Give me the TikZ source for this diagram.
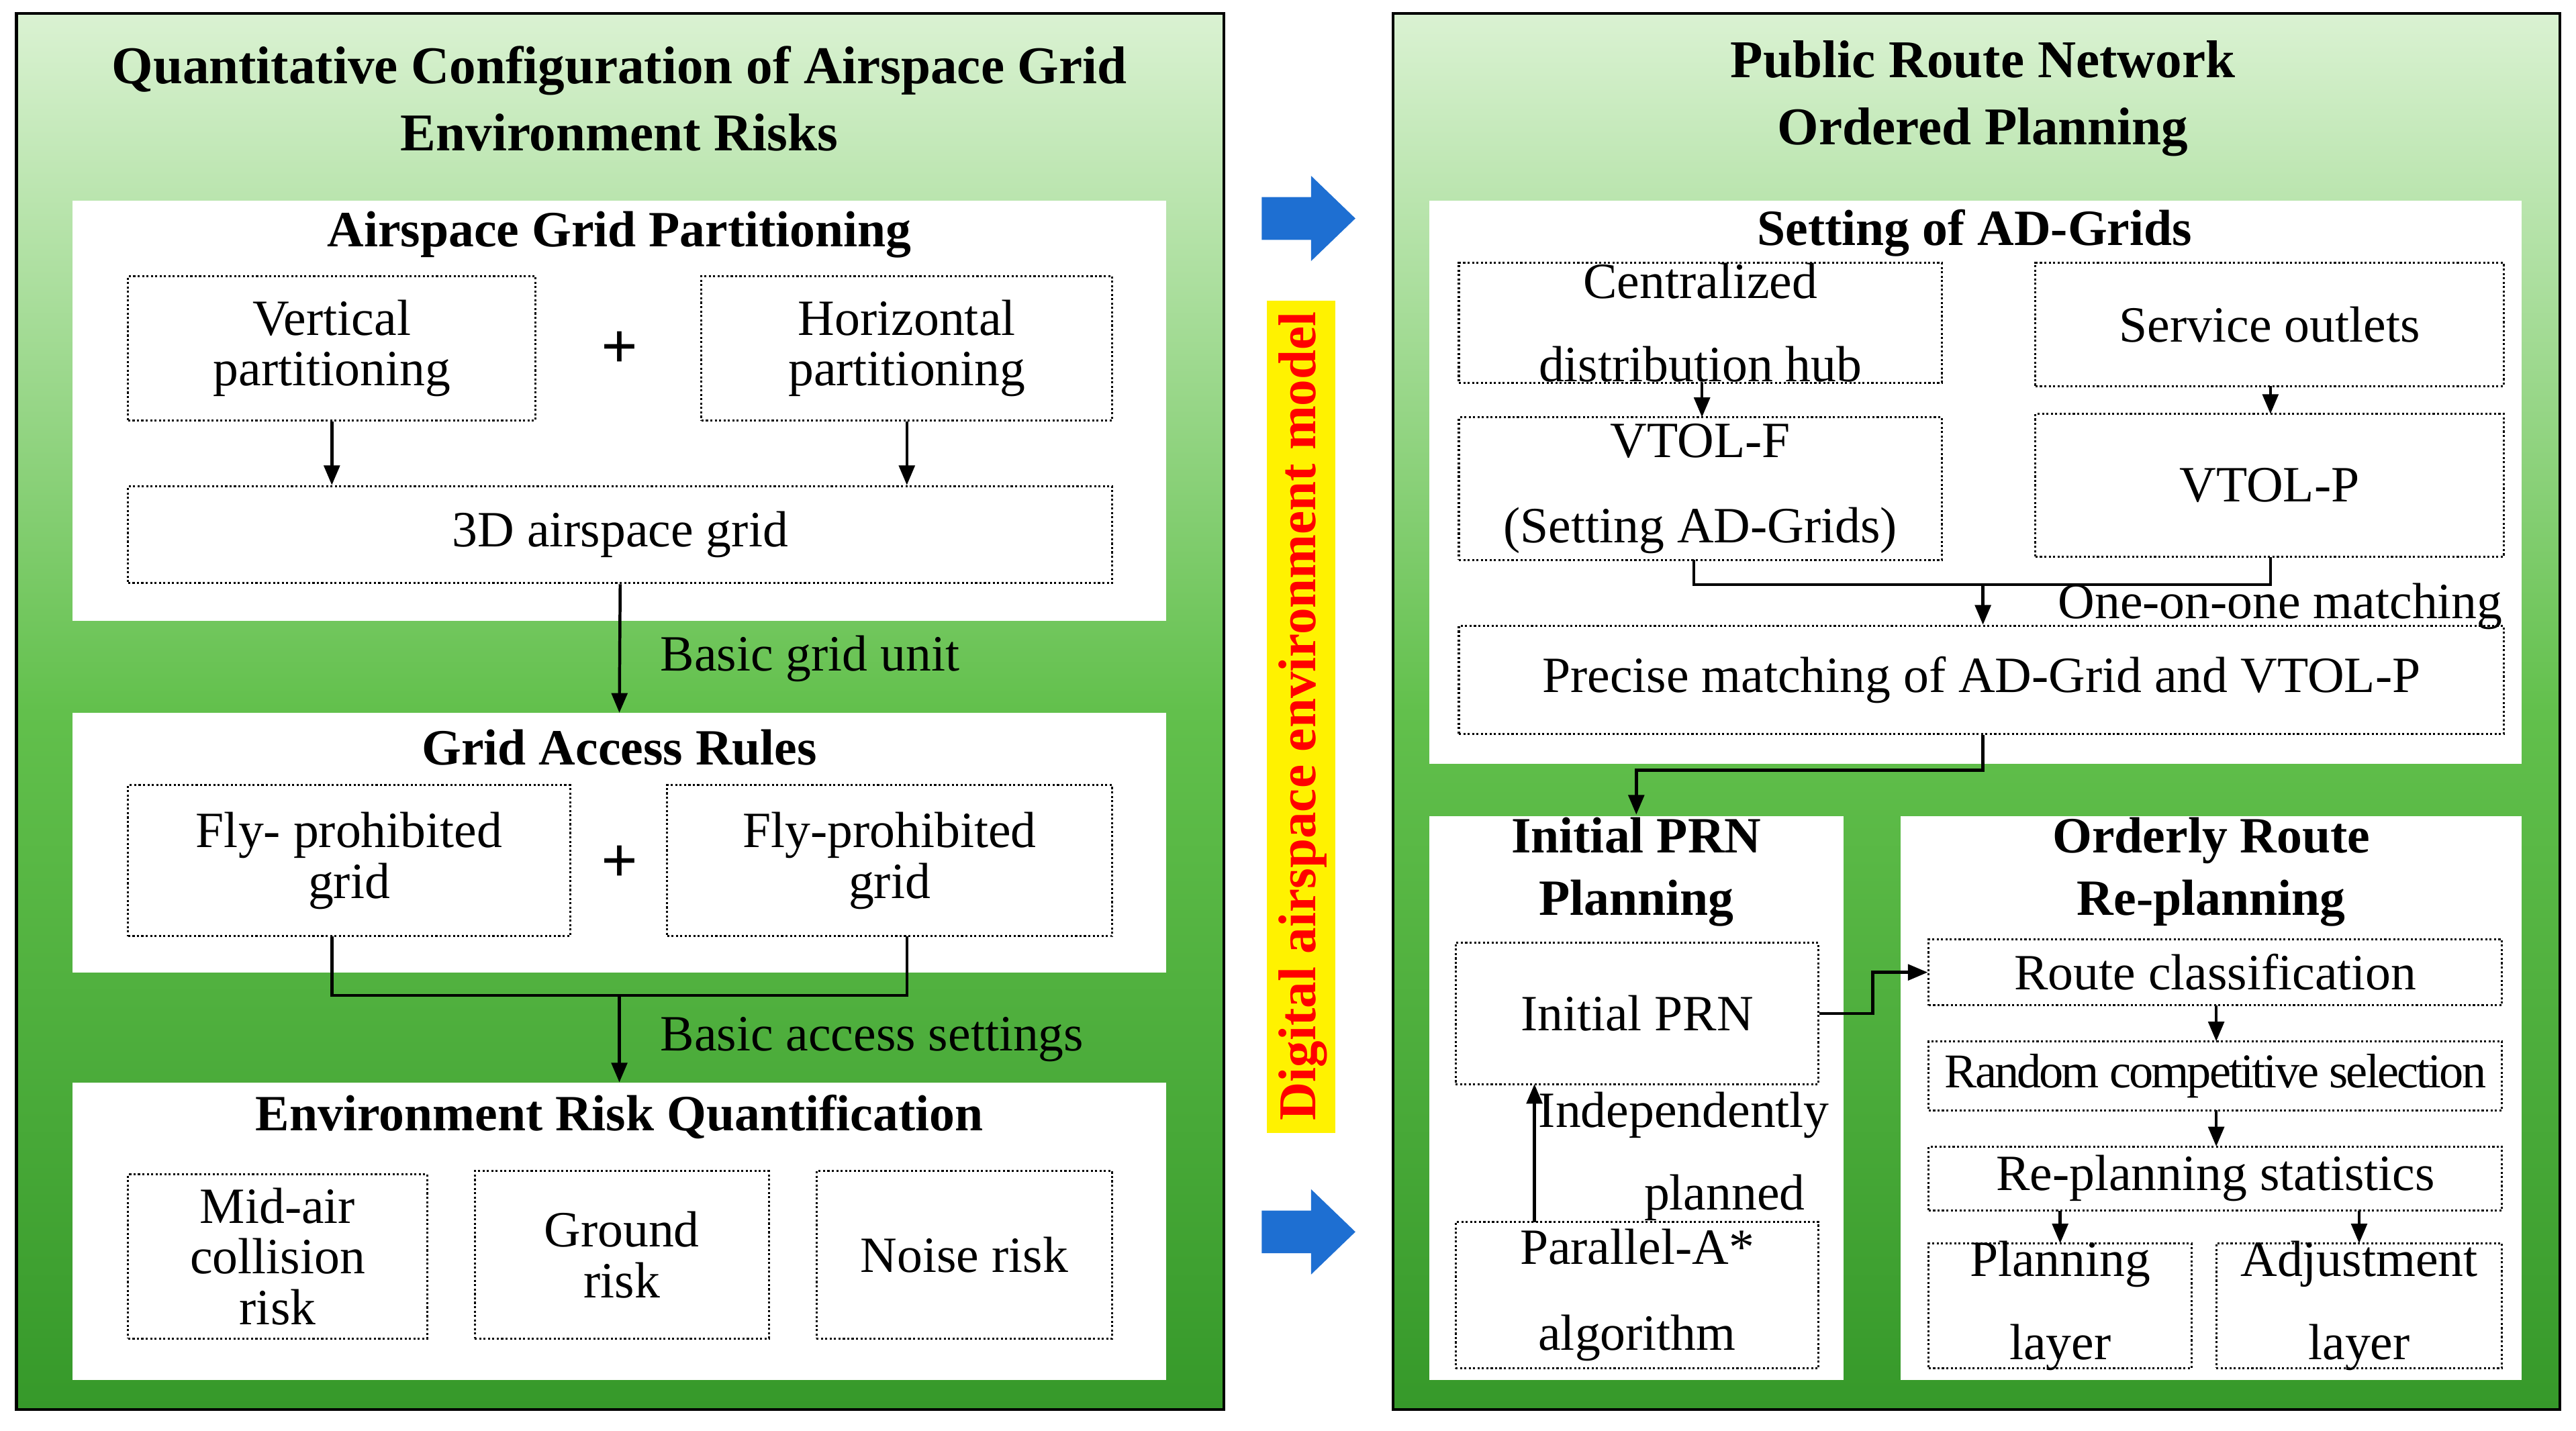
\documentclass[tikz,border=0pt]{standalone}
\usepackage{fontspec}
\setmainfont{Liberation Serif}
\usetikzlibrary{fit,arrows.meta}
\definecolor{gtop}{HTML}{DAF2D2}
\definecolor{gmid}{HTML}{62C04C}
\definecolor{gbot}{HTML}{36992A}
\definecolor{barrow}{HTML}{1E6FD2}
\definecolor{yelbar}{RGB}{255,242,0}
\tikzset{
 panel/.style={draw=black,line width=1.2pt},
 wbox/.style={fill=white,draw=none},
 dbox/.style={draw,densely dotted,line width=0.9pt,inner sep=0pt},
 txt/.style={align=center,font=\fontsize{22}{22}\selectfont,inner sep=0pt},
 ttl/.style={font=\bfseries\fontsize{23}{29}\selectfont,align=center},
 hdr/.style={font=\bfseries\fontsize{22}{22}\selectfont,align=center},
 lbl/.style={font=\fontsize{22}{26}\selectfont,align=center},
 con/.style={line width=1.3pt},
 arr/.style={line width=1.3pt,-{Triangle[length=3mm,width=2.4mm]}},
}
\begin{document}
\begin{tikzpicture}[x=0.25mm,y=-0.25mm]
\useasboundingbox (0,0) rectangle (1568,871);
\fill[white] (0,0) rectangle (1568,871);
\shade[top color=gtop,bottom color=gbot,middle color=gmid] (10,8) rectangle (745,858);
\draw[panel] (10,8) rectangle (745,858);
\shade[top color=gtop,bottom color=gbot,middle color=gmid] (848,8) rectangle (1558,858);
\draw[panel] (848,8) rectangle (1558,858);
\node[ttl] (t1) at (377,60) {Quantitative Configuration of Airspace Grid\\Environment Risks};
\node[ttl] (t2) at (1207,60) {Public Route Network\\Ordered Planning};
\fill[wbox] (44,122) rectangle (710,378);
\fill[wbox] (44,434) rectangle (710,592);
\fill[wbox] (44,659) rectangle (710,840);
\node[hdr] (h1) at (377,143) {Airspace Grid Partitioning};
\node[hdr] (h2) at (377,455) {Grid Access Rules};
\node[hdr] (h3) at (377,680) {Environment Risk Quantification};
\node[dbox,fit={(78,168)(326,256)}] (vp) {};
\node[txt] (vpt) at (vp.center) {Vertical\\partitioning};
\node[dbox,fit={(427,168)(677,256)}] (hp) {};
\node[txt] (hpt) at (hp.center) {Horizontal\\partitioning};
\node[font=\bfseries\fontsize{28}{28}\selectfont] (p1) at (377,213) {+};
\node[dbox,fit={(78,296)(677,355)}] (g3) {};
\node[txt] (g3t) at (g3.center) {3D airspace grid};
\draw[arr] (vp.south) -- (vp.south |- g3.north);
\draw[arr] (hp.south) -- (hp.south |- g3.north);
\coordinate (c2) at (377,434);
\draw[arr] (g3.south) -- (c2);
\node[lbl,anchor=west] (l1) at (397,401) {Basic grid unit};
\node[dbox,fit={(78,478)(347,570)}] (f1) {};
\node[txt] (f1t) at (f1.center) {Fly- prohibited\\grid};
\node[dbox,fit={(406,478)(677,570)}] (f2) {};
\node[txt] (f2t) at (f2.center) {Fly-prohibited\\grid};
\node[font=\bfseries\fontsize{28}{28}\selectfont] (p2) at (377,526) {+};
\coordinate (j1) at (202,606);
\coordinate (j2) at (552,606);
\coordinate (jm) at (377,606);
\coordinate (c3) at (377,659);
\draw[con] (202,570) -- (j1) -- (j2) -- (552,570);
\draw[arr] (jm) -- (c3);
\node[lbl,anchor=west] (l2) at (397,633) {Basic access settings};
\node[dbox,fit={(78,715)(260,815)}] (r1) {};
\node[txt] (r1t) at (r1.center) {Mid-air\\collision\\risk};
\node[dbox,fit={(289,713)(468,815)}] (r2) {};
\node[txt] (r2t) at (r2.center) {Ground\\risk};
\node[dbox,fit={(497,713)(677,815)}] (r3) {};
\node[txt] (r3t) at (r3.center) {Noise risk};
% middle
\fill[barrow] (768,120) -- (798,120) -- (798,107) -- (825,133) -- (798,159) -- (798,146) -- (768,146) -- cycle;
\fill[barrow] (768,737) -- (798,737) -- (798,724) -- (825,750) -- (798,776) -- (798,763) -- (768,763) -- cycle;
\fill[yelbar] (771,183) rectangle (813,690);
\node[rotate=90,text=red,font=\bfseries\fontsize{23}{23}\selectfont] (dm) at (793,436) {Digital airspace environment model};
% right
\fill[wbox] (870,122) rectangle (1535,465);
\fill[wbox] (870,497) rectangle (1122,840);
\fill[wbox] (1157,497) rectangle (1535,840);
\node[hdr] (h4) at (1202,142) {Setting of AD-Grids};
\node[hdr,font=\bfseries\fontsize{22}{27}\selectfont] (h5) at (996,531) {Initial PRN\\Planning};
\node[hdr,font=\bfseries\fontsize{22}{27}\selectfont] (h6) at (1346,531) {Orderly Route\\Re-planning};
\node[dbox,fit={(888,160)(1182,233)}] (cd) {};
\node[txt,font=\fontsize{22}{36}\selectfont] (cdt) at (cd.center) {Centralized\\distribution hub};
\node[dbox,fit={(1239,160)(1524,235)}] (so) {};
\node[txt] (sot) at (so.center) {Service outlets};
\node[dbox,fit={(888,254)(1182,341)}] (vf) {};
\node[txt,font=\fontsize{22}{37}\selectfont] (vft) at (vf.center) {VTOL-F\\(Setting AD-Grids)};
\node[dbox,fit={(1239,252)(1524,339)}] (vpp) {};
\node[txt] (vppt) at (vpp.center) {VTOL-P};
\draw[arr] (1036,233) -- (1036,254);
\draw[arr] (1382,235) -- (1382,252);
\node[dbox,fit={(888,381)(1524,447)}] (pm) {};
\node[txt] (pmt) at (pm.center) {Precise matching of AD-Grid and VTOL-P};
\coordinate (k1) at (1031,356);
\coordinate (k2) at (1382,356);
\coordinate (km) at (1207,356);
\draw[con] (1031,341) -- (k1) -- (k2) -- (1382,339);
\draw[arr] (km) -- (pm.north -| km);
\node[lbl] (l3) at (1388,369) {One-on-one matching};
\coordinate (m1) at (1207,469);
\coordinate (m2) at (996,469);
\coordinate (m3) at (996,496);
\draw[arr] (pm.south -| m1) -- (m1) -- (m2) -- (m3);
\node[dbox,fit={(886,574)(1107,660)}] (ip) {};
\node[txt] (ipt) at (ip.center) {Initial PRN};
\node[dbox,fit={(886,744)(1107,833)}] (pa) {};
\node[txt,font=\fontsize{22}{37}\selectfont] (pat) at (pa.center) {Parallel-A*\\algorithm};
\draw[arr] (934,744) -- (934,660);
\node[lbl,font=\fontsize{22}{36}\selectfont] (l4) at (1025,704) {Independently\\\hspace*{1.6em}planned};
\node[dbox,fit={(1174,572)(1523,612)}] (rc) {};
\node[txt] (rct) at (rc.center) {Route classification};
\node[dbox,fit={(1174,634)(1523,676)}] (rs) {};
\node[txt,font=\fontsize{21}{21}\selectfont\addfontfeature{LetterSpace=-4}] (rst) at (rs.center) {Random competitive selection};
\node[dbox,fit={(1174,698)(1523,737)}] (rp) {};
\node[txt] (rpt) at (rp.center) {Re-planning statistics};
\node[dbox,fit={(1174,757)(1334,833)}] (pl) {};
\node[txt,font=\fontsize{22}{36}\selectfont] (plt) at (pl.center) {Planning\\layer};
\node[dbox,fit={(1349,757)(1523,833)}] (al) {};
\node[txt,font=\fontsize{22}{36}\selectfont] (alt) at (al.center) {Adjustment\\layer};
\draw[arr] (1349,612) -- (1349,634);
\draw[arr] (1349,676) -- (1349,698);
\draw[arr] (1254,737) -- (1254,757);
\draw[arr] (1436,737) -- (1436,757);
\coordinate (n1) at (1140,617);
\coordinate (n2) at (1140,592);
\draw[arr] (ip.east |- n1) -- (n1) -- (n2) -- (rc.west |- n2);
\end{tikzpicture}
\end{document}
